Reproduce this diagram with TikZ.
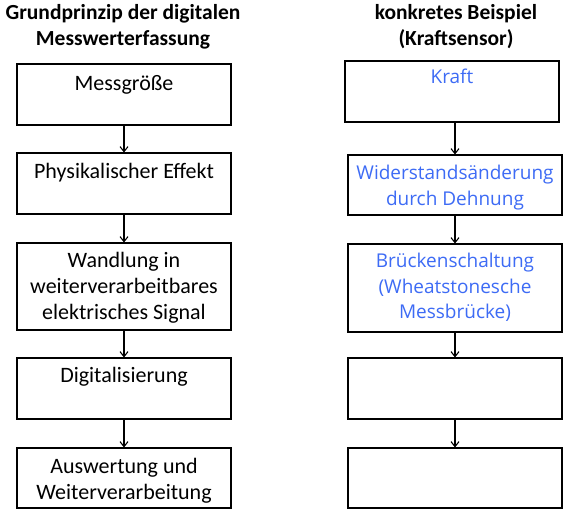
\documentclass[tikz,border=0pt]{standalone}
\usepackage{fontspec}
\setmainfont{Carlito}
\newfontfamily\handfont{Open Sans}
\usetikzlibrary{arrows.meta, positioning}
\definecolor{handblue}{HTML}{3D6BF5}

\begin{document}
\begin{tikzpicture}[
    x=1pt, y=-1pt,
    box/.style={
      draw=black, fill=white, line width=1.1pt,
      minimum width=214pt, minimum height=61pt, inner sep=0pt
    },
    txt/.style={align=center, inner sep=0pt, font=\fontsize{22}{26}\selectfont},
    hand/.style={align=center, inner sep=0pt, text=handblue,
      font=\handfont\fontsize{19}{25.5}\selectfont},
    head/.style={align=center, inner sep=0pt, font=\fontsize{21.5}{26}\selectfont\bfseries},
    arrow/.style={-{Straight Barb[length=5pt, width=8pt]}, black, line width=1.1pt}
  ]
  \useasboundingbox (0,0) rectangle (573,523);

  % headings
  \node[head] (lhead) at (123,27) {Grundprinzip der digitalen\\Messwerterfassung};
  \node[head] (rhead) at (456,27) {konkretes Beispiel\\(Kraftsensor)};

  % left column
  \node[box] (l1) at (124,94.5) {};
  \node[box] (l2) at (124,183.5) {};
  \node[box, minimum height=87pt] (l3) at (124,286.5) {};
  \node[box] (l4) at (124,388.5) {};
  \node[box, minimum height=60pt] (l5) at (124,478) {};

  \node[txt, below=12pt of l1.north] (l1t) {Messgröße};
  \node[txt, below=11pt of l2.north] (l2t) {Physikalischer Effekt};
  \node[txt, below=10pt of l3.north] (l3t) {Wandlung in\\weiterverarbeitbares\\elektrisches Signal};
  \node[txt, below=10pt of l4.north] (l4t) {Digitalisierung};
  \node[txt, below=11pt of l5.north] (l5t) {Auswertung und\\Weiterverarbeitung};

  % right column
  \node[box] (r1) at (452,91.5) {};
  \node[box, minimum height=60pt] (r2) at (455,185) {};
  \node[box, minimum height=88pt] (r3) at (455,288) {};
  \node[box] (r4) at (455,388.5) {};
  \node[box, minimum height=60pt] (r5) at (455,478) {};

  \node[hand, below=8.5pt of r1.north] (r1t) {Kraft};
  \node[hand, below=10.5pt of r2.north] (r2t) {Widerstandsänderung\\durch Dehnung};
  \node[hand, below=9.5pt of r3.north] (r3t) {Brückenschaltung\\(Wheatstonesche\\Messbrücke)};

  % arrows
  \foreach \a/\b in {l1/l2, l2/l3, l3/l4, l4/l5, r2/r3, r3/r4, r4/r5}
    \draw[arrow] (\a.south) -- (\b.north);
  \draw[arrow] (r2.north |- r1.south) -- (r2.north);
\end{tikzpicture}
\end{document}
